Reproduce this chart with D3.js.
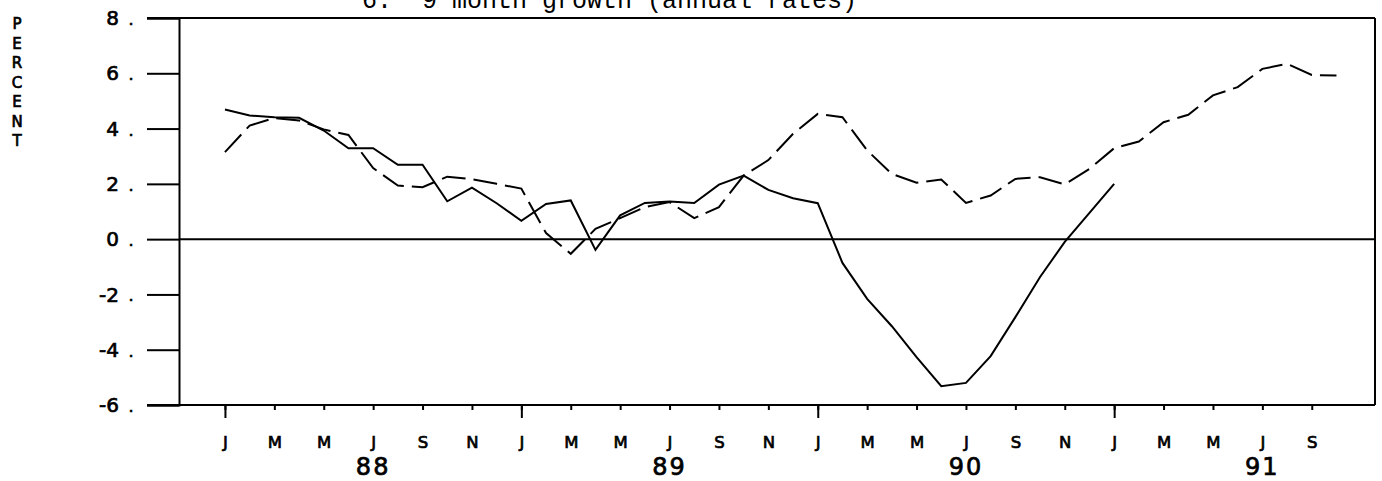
<!DOCTYPE html>
<html>
<head>
<meta charset="utf-8">
<script src="https://cdn.jsdelivr.net/npm/d3@7"></script>
<style>
  body { margin: 0; background: #fff; }
  svg { display: block; }
  .plotfont { font-family: "DejaVu Sans", sans-serif; fill: #000; stroke: #000; stroke-width: 0.7px; }
</style>
</head>
<body>
<div id="chart"></div>
<script>
// month index 0 = Jan 1988
let monthLetters = ["J", "F", "M", "A", "M", "J", "J", "A", "S", "O", "N", "D"];
let yearLabels = ["88", "89", "90", "91"];
let yTicks = [-6, -4, -2, 0, 2, 4, 6, 8];

// solid line, Jan 88 - Jan 91
let solidValues = [4.69, 4.47, 4.41, 4.39, 3.93, 3.29, 3.29, 2.69, 2.69, 1.37, 1.86, 1.30,
    0.66, 1.27, 1.40, -0.39, 0.86, 1.31, 1.36, 1.31, 1.97, 2.30, 1.78, 1.48,
    1.30, -0.86, -2.16, -3.15, -4.27, -5.32, -5.20, -4.23, -2.82, -1.37, -0.10, 0.95,
    2.00];

// dashed line, Jan 88 - Oct 91
let dashedValues = [3.15, 4.11, 4.38, 4.29, 3.97, 3.77, 2.57, 1.94, 1.88, 2.26, 2.17, 2.00,
    1.83, 0.22, -0.53, 0.37, 0.76, 1.16, 1.34, 0.76, 1.16, 2.30, 2.86, 3.81,
    4.53, 4.41, 3.21, 2.36, 2.04, 2.16, 1.31, 1.58, 2.18, 2.24, 1.98, 2.54,
    3.29, 3.53, 4.23, 4.50, 5.20, 5.50, 6.16, 6.34, 5.94, 5.92];

let title = "6.  9 month growth (annual rates)";
let yLabel = "PERCENT";

let width = 1382;
let height = 481;
let plotLeft = 179;
let plotRight = 1375;
let plotTop = 18;
let plotBottom = 405;

let svg = d3.select("#chart").append("svg")
    .attr("width", width)
    .attr("height", height);

let x = d3.scaleLinear().domain([-1.86, 46.56]).range([plotLeft, plotRight]);
let y = d3.scaleLinear().domain([-6, 8]).range([plotBottom, plotTop]);

// title, partly cut off by the top edge
svg.append("text")
    .attr("x", 362)
    .attr("y", 8)
    .style("font-family", "'Liberation Mono', monospace")
    .style("font-size", "25px")
    .style("white-space", "pre")
    .text(title);

// PERCENT, one letter under another
svg.append("g").selectAll("text")
    .data(yLabel.split(""))
    .join("text")
    .attr("class", "plotfont")
    .attr("x", 17)
    .attr("y", (d, i) => 24 + i * 19.5)
    .attr("dy", "0.36em")
    .style("font-size", "15px")
    .style("text-anchor", "middle")
    .text(d => d);

// frame
svg.append("line")
    .attr("x1", 147).attr("x2", plotRight)
    .attr("y1", plotTop).attr("y2", plotTop)
    .attr("stroke", "#000").attr("stroke-width", 2);
svg.append("line")
    .attr("x1", 147).attr("x2", plotRight)
    .attr("y1", plotBottom).attr("y2", plotBottom)
    .attr("stroke", "#000").attr("stroke-width", 2);
svg.append("line")
    .attr("x1", plotRight).attr("x2", plotRight)
    .attr("y1", plotTop).attr("y2", plotBottom)
    .attr("stroke", "#000").attr("stroke-width", 2);

// y axis, ticks pointing out to the left
let yAxis = svg.append("g")
    .attr("transform", "translate(" + plotLeft + ",0)")
    .call(d3.axisLeft(y).tickValues(yTicks).tickSize(32).tickFormat(""));
yAxis.select(".domain").attr("stroke-width", 2);
yAxis.selectAll(".tick line").attr("stroke-width", 2);

// y tick labels "8 ."
let yLab = svg.append("g");
yLab.selectAll("text.num")
    .data(yTicks)
    .join("text")
    .attr("class", "plotfont num")
    .attr("x", 119)
    .attr("y", d => y(d))
    .attr("dy", "0.36em")
    .style("font-size", "20px")
    .style("text-anchor", "end")
    .text(d => d < 0 ? "-" + Math.abs(d) : d);
yLab.selectAll("text.dot")
    .data(yTicks)
    .join("text")
    .attr("class", "plotfont dot")
    .attr("x", 131)
    .attr("y", d => y(d) + 7)
    .style("font-size", "16px")
    .style("text-anchor", "middle")
    .text(".");

// zero line
svg.append("line")
    .attr("x1", plotLeft).attr("x2", plotRight)
    .attr("y1", y(0)).attr("y2", y(0))
    .attr("stroke", "#000").attr("stroke-width", 2);

// x axis: every second month, short ticks and a letter
let tickMonths = d3.range(0, 46, 2);
let xAxis = svg.append("g")
    .attr("transform", "translate(0," + plotBottom + ")")
    .call(d3.axisBottom(x).tickValues(tickMonths).tickSize(5).tickPadding(26)
        .tickFormat(d => monthLetters[d % 12]));
xAxis.select(".domain").remove();
xAxis.selectAll(".tick line").attr("stroke-width", 2);
xAxis.selectAll(".tick text")
    .attr("class", "plotfont")
    .style("font-size", "16.5px");

// longer ticks at each January
let janAxis = svg.append("g")
    .attr("transform", "translate(0," + plotBottom + ")")
    .call(d3.axisBottom(x).tickValues([0, 12, 24, 36]).tickSize(13).tickFormat(""));
janAxis.select(".domain").remove();
janAxis.selectAll(".tick line").attr("stroke-width", 2);

// year labels under July
svg.append("g").selectAll("text")
    .data(yearLabels)
    .join("text")
    .attr("class", "plotfont")
    .attr("x", (d, i) => x(i * 12 + 6))
    .attr("y", 475)
    .style("font-size", "24px")
    .style("text-anchor", "middle")
    .style("letter-spacing", "2px")
    .text(d => d);

// lines
let line = d3.line()
    .x((d, i) => x(i))
    .y(d => y(d));

svg.append("path")
    .datum(solidValues)
    .attr("fill", "none")
    .attr("stroke", "#000")
    .attr("stroke-width", 2)
    .attr("d", line);

svg.append("path")
    .datum(dashedValues)
    .attr("fill", "none")
    .attr("stroke", "#000")
    .attr("stroke-width", 2)
    .attr("stroke-dasharray", "24,8")
    .attr("d", line);
</script>
</body>
</html>
